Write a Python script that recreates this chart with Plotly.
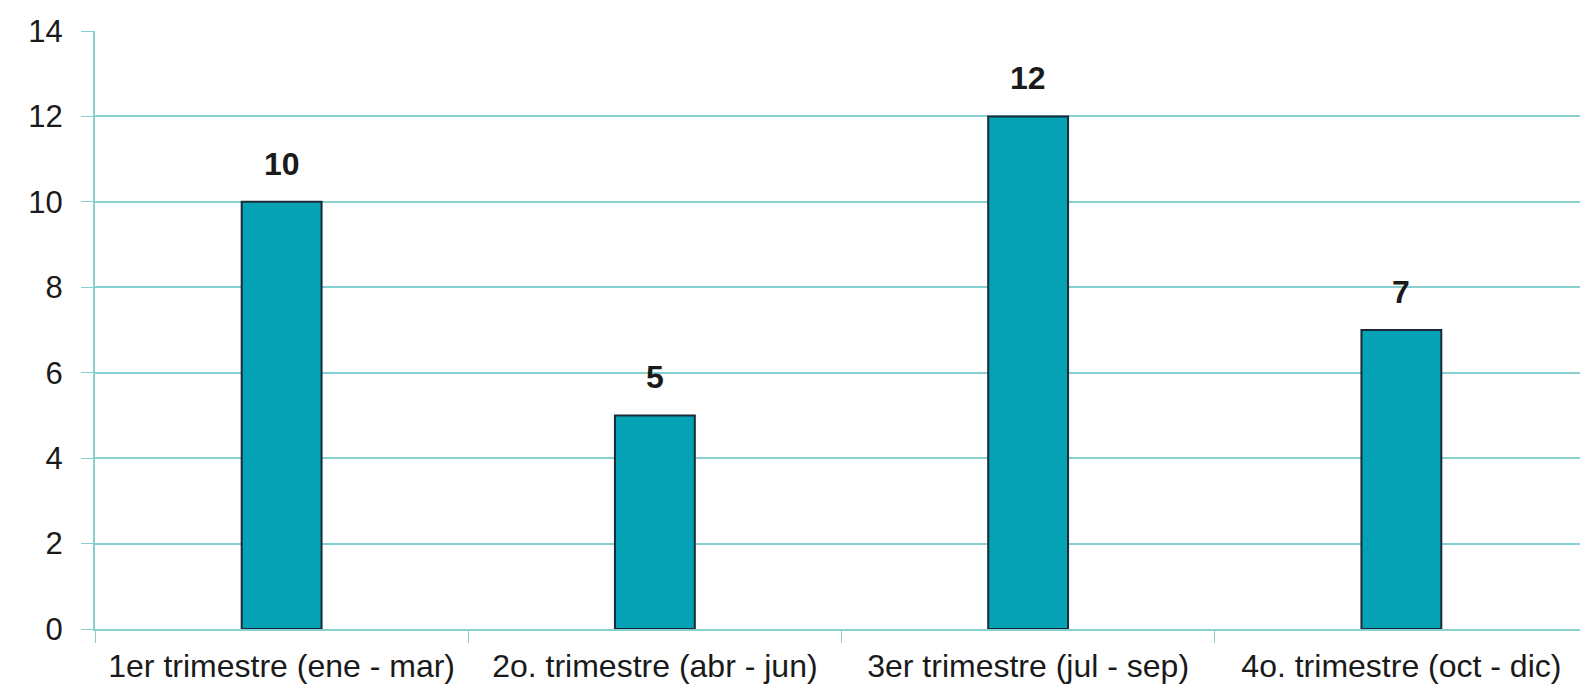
import plotly.graph_objects as go

categories = ["1er trimestre (ene - mar)", "2o. trimestre (abr - jun)",
              "3er trimestre (jul - sep)", "4o. trimestre (oct - dic)"]
values = [10, 5, 12, 7]
y_ticks = [0, 2, 4, 6, 8, 10, 12, 14]

teal_line = "#86d0cf"
bar_color = "#05a2b5"

fig = go.Figure(go.Bar(
    x=categories, y=values,
    marker=dict(color=bar_color, line=dict(color="#1b2a38", width=2)),
))

for c, v in zip(categories, values):
    fig.add_annotation(x=c, y=v, text=f"<b>{v}</b>", showarrow=False,
                       yanchor="bottom", yshift=18,
                       font=dict(family="Liberation Sans", size=32, color="#1a1a1a"))

fig.update_layout(
    width=1580, height=680,
    margin=dict(l=87, r=0, t=23, b=59),
    paper_bgcolor="white", plot_bgcolor="white",
    bargap=0.786,
    showlegend=False,
    font=dict(family="Liberation Sans", size=30, color="#1a1a1a"),
)
fig.update_xaxes(
    type="category", showline=True, linecolor=teal_line, linewidth=2,
    ticks="outside", tickson="boundaries", ticklen=12, tickcolor=teal_line,
    tickfont=dict(size=32), showgrid=False, automargin=False,
    ticklabelstandoff=8,
)
fig.update_yaxes(
    range=[0, 14], tickvals=y_ticks, showline=True, linecolor=teal_line, linewidth=2,
    ticks="outside", ticklen=12, tickcolor=teal_line,
    showgrid=True, gridcolor=teal_line, gridwidth=2,
    tickfont=dict(size=31), zeroline=False, automargin=False,
    ticklabelstandoff=12,
)

fig.write_html("out.html")
